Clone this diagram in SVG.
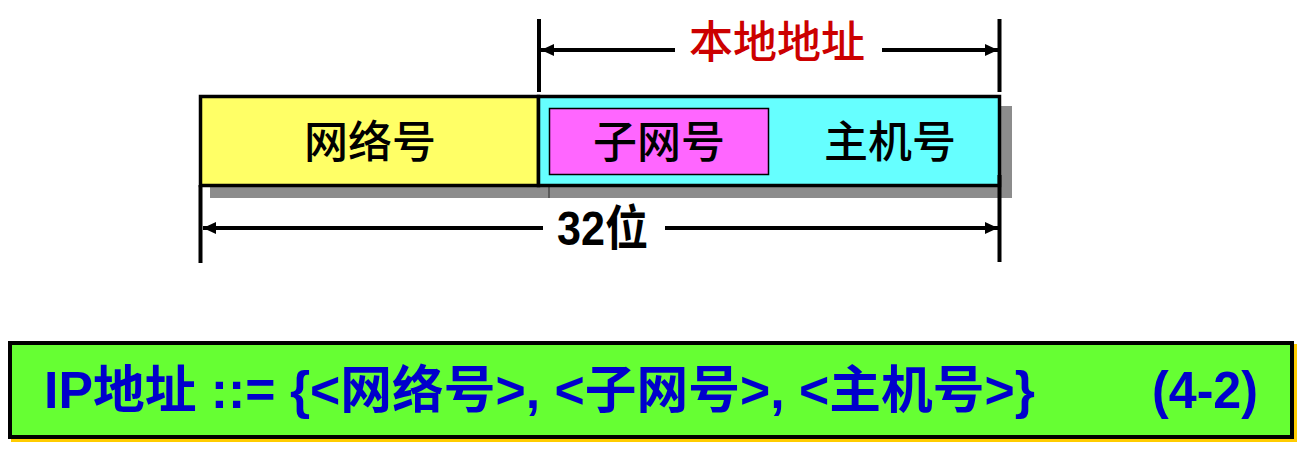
<svg xmlns="http://www.w3.org/2000/svg" width="1309" height="461" viewBox="0 0 1309 461">
<style>
.cjk{font-family:"Noto Sans CJK SC","Liberation Sans",sans-serif;font-size:44px;font-weight:500;fill:#000;}
.ln{stroke:#000;stroke-width:4;fill:none;}
.arr{stroke:#000;stroke-width:4;fill:none;}
.formula{font-family:"Liberation Sans","Noto Sans CJK SC",sans-serif;font-weight:bold;font-size:51px;fill:#0000CC;}
</style>
<defs>
<marker id="ah" markerUnits="userSpaceOnUse" markerWidth="14" markerHeight="14" refX="13" refY="7" orient="auto">
<path d="M0,1 L13,7 L0,13 Z" fill="#000"/>
</marker>
</defs>
<rect width="1309" height="461" fill="#fff"/>

<g id="field-shadow">
<rect x="210" y="106" width="802" height="92" fill="#8C8C8C"/>
<line x1="549" y1="187" x2="549" y2="198" stroke="#5a5a5a" stroke-width="2"/>
</g>

<g id="network">
<rect x="200.5" y="96.5" width="338" height="89" fill="#FFFF66" stroke="#000" stroke-width="3.5"/>
<text class="cjk" x="370" y="158" text-anchor="middle">网络号</text>
</g>

<g id="local">
<rect x="538.5" y="96.5" width="461" height="89" fill="#66FFFF" stroke="#000" stroke-width="3.5"/>
</g>

<g id="subnet">
<rect x="549.5" y="108.5" width="219" height="66" fill="#FF66FF" stroke="#000" stroke-width="1.5"/>
<text class="cjk" x="659" y="158" text-anchor="middle">子网号</text>
</g>

<g id="host">
<text class="cjk" x="890" y="158" text-anchor="middle">主机号</text>
</g>

<g id="connectors">
<line class="ln" x1="539" y1="19" x2="539" y2="92"/>
<line class="ln" x1="999.5" y1="19" x2="999.5" y2="92"/>
<line class="ln" x1="200.5" y1="185" x2="200.5" y2="263"/>
<line class="ln" x1="999.5" y1="175" x2="999.5" y2="262"/>
<line class="arr" x1="675" y1="50" x2="541" y2="50" marker-end="url(#ah)"/>
<line class="arr" x1="882" y1="50" x2="998" y2="50" marker-end="url(#ah)"/>
<line class="arr" x1="543" y1="228" x2="203" y2="228" marker-end="url(#ah)"/>
<line class="arr" x1="665" y1="228" x2="998" y2="228" marker-end="url(#ah)"/>
</g>

<g id="local-label">
<text x="777" y="58" text-anchor="middle" style="font-family:'Noto Sans CJK SC','Liberation Sans',sans-serif;font-size:44px;font-weight:500;fill:#CC0000;">本地地址</text>
</g>

<g id="bits-label">
<text x="557" y="245" textLength="91" lengthAdjust="spacingAndGlyphs" style="font-family:'Liberation Sans','Noto Sans CJK SC',sans-serif;font-weight:bold;font-size:48px;fill:#000;">32位</text>
</g>

<g id="formula">
<rect x="11" y="344" width="1286" height="98" fill="#FFCC00"/>
<rect x="10" y="343" width="1282" height="94" fill="#66FF33" stroke="#000" stroke-width="4"/>
<text class="formula" x="44" y="408" textLength="991" lengthAdjust="spacingAndGlyphs">IP地址 ::= {&lt;网络号&gt;, &lt;子网号&gt;, &lt;主机号&gt;}</text>
<text class="formula" x="1152" y="408" textLength="106" lengthAdjust="spacingAndGlyphs">(4-2)</text>
</g>
</svg>
